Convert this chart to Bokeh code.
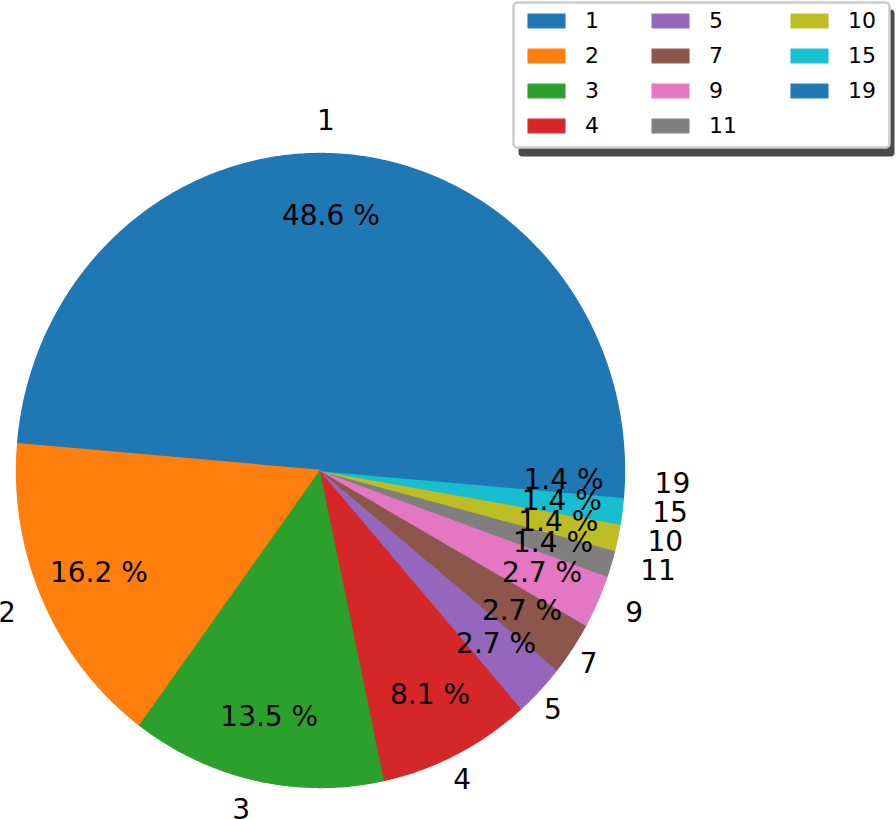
import numpy as np
from bokeh.plotting import figure
from bokeh.models import ColumnDataSource, Legend, LegendItem, BoxAnnotation, Range1d
from bokeh.core.properties import value
from bokeh.embed import file_html
from bokeh.resources import INLINE

# ---- data ----
labels = ["1", "2", "3", "4", "5", "7", "9", "11", "10", "15", "19"]
counts = [36, 12, 10, 6, 2, 2, 2, 1, 1, 1, 1]
colors = ["#1f77b4", "#ff7f0e", "#2ca02c", "#d62728", "#9467bd", "#8c564b",
          "#e377c2", "#7f7f7f", "#bcbd22", "#17becf", "#1f77b4"]
legend_columns = [[0, 1, 2, 3], [4, 5, 6, 7], [8, 9, 10]]

# ---- geometry (pixels) ----
W, H = 896, 819
cx_px, cy_px = 320, 470
rx_px, ry_px = 304, 317

p = figure(width=W, height=H, output_backend="svg", toolbar_location=None,
           x_range=Range1d(-cx_px / rx_px, (W - cx_px) / rx_px),
           y_range=Range1d(-(H - cy_px) / ry_px, cy_px / ry_px),
           min_border=0, outline_line_color=None)
p.axis.visible = False
p.grid.visible = False

total = float(sum(counts))
fracs = np.array(counts) / total
ends = np.cumsum(fracs) * 2 * np.pi
starts = ends - fracs * 2 * np.pi

xs, ys = [], []
for a0, a1 in zip(starts, ends):
    t = np.linspace(a0, a1, max(int((a1 - a0) / 0.01), 8))
    xs.append([0.0] + list(np.cos(t)) + [0.0])
    ys.append([0.0] + list(np.sin(t)) + [0.0])

src = ColumnDataSource(dict(xs=xs, ys=ys, color=colors, label=labels))
r = p.patches("xs", "ys", fill_color="color", line_color="color", line_width=1.3,
              line_join="round", source=src)

mids = (starts + ends) / 2
lab_x = 1.1 * np.cos(mids)
lab_y = 1.1 * np.sin(mids)
align = ["left" if c > 0.85 else "right" for c in np.cos(mids)]
pct_x = 0.8 * np.cos(mids)
pct_y = 0.8 * np.sin(mids)
pct_txt = ["%.1f %%" % (f * 100) for f in fracs]

tsrc = ColumnDataSource(dict(x=lab_x, y=lab_y, t=labels, a=align))
p.text("x", "y", text="t", text_align="a", text_baseline="middle", source=tsrc,
       y_offset=-3,
       text_font=value("DejaVu Sans"), text_font_size="28px", text_color="black")
psrc = ColumnDataSource(dict(x=pct_x, y=pct_y, t=pct_txt))
p.text("x", "y", text="t", text_align="center", text_baseline="middle", source=psrc,
       y_offset=-2,
       text_font=value("DejaVu Sans"), text_font_size="28px", text_color="black")

# legend frame + shadow (pixel positions converted to data coords)
def dx(px):
    return (px - cx_px) / rx_px
def dy(py):
    return (cy_px - py) / ry_px

shadow = BoxAnnotation(left=dx(518), right=dx(894), top=dy(9), bottom=dy(156),
                       fill_color="#4a4a4a", fill_alpha=1.0, line_color=None)
frame = BoxAnnotation(left=dx(513), right=dx(889), top=dy(2), bottom=dy(147),
                      fill_color="white", fill_alpha=1.0,
                      line_color="#cccccc", line_width=2.5, line_alpha=1.0)
for b in (shadow, frame):
    try:
        b.border_radius = 4
    except Exception:
        pass
p.add_layout(shadow)
p.add_layout(frame)

item_h, spacing = 25, 10
col_left = [523, 647, 786]
row1_top = 20.7 - item_h / 2
for cl, idxs in zip(col_left, legend_columns):
    n = len(idxs)
    lh = n * item_h + (n - 1) * spacing
    vy = H - row1_top - lh
    items = [LegendItem(label=labels[i], renderers=[r], index=i) for i in idxs]
    lg = Legend(items=items, location=(cl, vy), orientation="vertical",
                margin=0, padding=0, spacing=spacing,
                border_line_color=None, background_fill_alpha=0.0,
                label_text_font="DejaVu Sans", label_text_font_size="22px",
                label_text_color="black",
                glyph_width=46, glyph_height=17, label_standoff=16)
    p.add_layout(lg)

open("out.html", "w").write(file_html(p, INLINE))
